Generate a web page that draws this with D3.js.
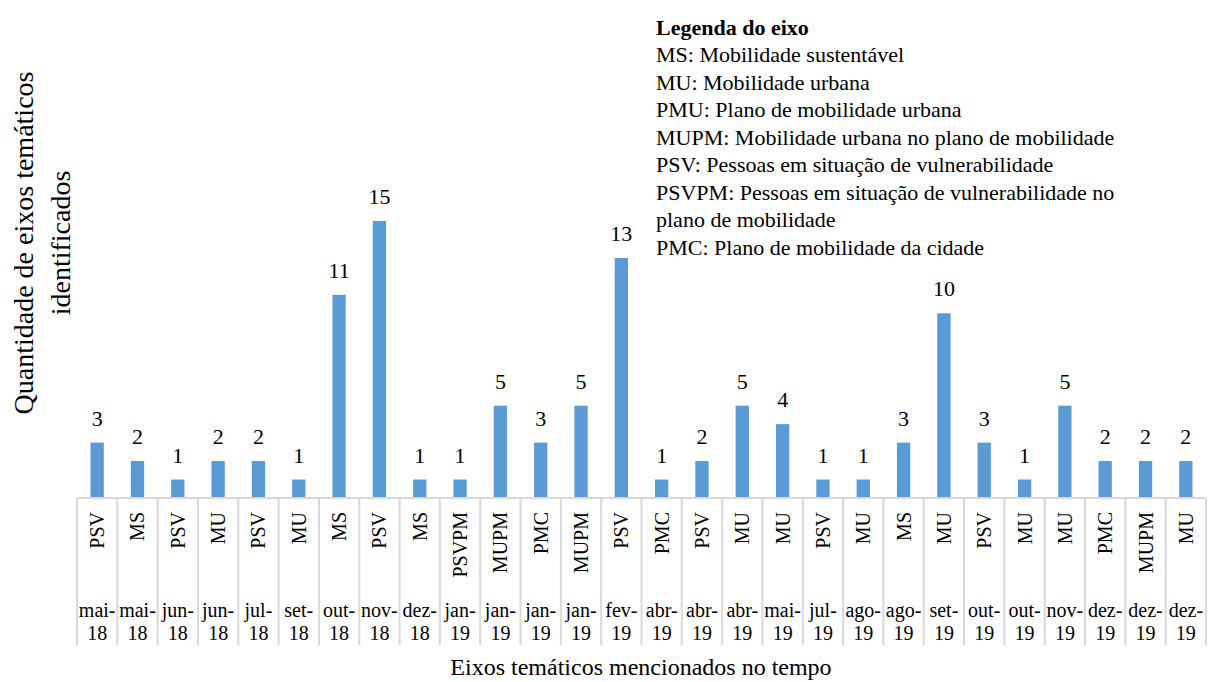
<!DOCTYPE html>
<html>
<head>
<meta charset="utf-8">
<script src="https://cdn.jsdelivr.net/npm/d3@7"></script>
<style>
  html, body { margin: 0; padding: 0; background: #fff; }
  svg { display: block; }
  svg text, svg tspan { font-family: "Liberation Serif", "Times New Roman", "DejaVu Serif", serif !important; fill: #000; }
</style>
</head>
<body>
<svg id="chart" width="1208" height="682" font-family="Liberation Serif, serif"></svg>
<script>
const themes = ["PSV","MS","PSV","MU","PSV","MU","MS","PSV","MS","PSVPM","MUPM","PMC","MUPM","PSV",
                "PMC","PSV","MU","MU","PSV","MU","MS","MU","PSV","MU","MU","PMC","MUPM","MU"];
const dates = ["mai-18","mai-18","jun-18","jun-18","jul-18","set-18","out-18","nov-18","dez-18","jan-19",
               "jan-19","jan-19","jan-19","fev-19","abr-19","abr-19","abr-19","mai-19","jul-19","ago-19",
               "ago-19","set-19","out-19","out-19","nov-19","dez-19","dez-19","dez-19"];
const values = [3,2,1,2,2,1,11,15,1,1,5,3,5,13,1,2,5,4,1,1,3,10,3,1,5,2,2,2];
const legendTitle = "Legenda do eixo";
const legendLines = [
  "MS: Mobilidade sustentável",
  "MU: Mobilidade urbana",
  "PMU: Plano de mobilidade urbana",
  "MUPM: Mobilidade urbana no plano de mobilidade",
  "PSV: Pessoas em situação de vulnerabilidade",
  "PSVPM: Pessoas em situação de vulnerabilidade no",
  "plano de mobilidade",
  "PMC: Plano de mobilidade da cidade"
];
const yTitleLines = ["Quantidade de eixos temáticos", "identificados"];
const xTitle = "Eixos temáticos mencionados no tempo";

const FONT = "'Liberation Serif', 'Times New Roman', serif";
const svg = d3.select("#chart");
const idx = d3.range(values.length);
const left = 77, right = 1206, baseY = 498, topY = 221;

const x = d3.scaleBand().domain(idx).range([left, right]).padding(0);
const y = d3.scaleLinear().domain([0, 15]).range([baseY, topY]);
const barW = x.bandwidth() * 0.33;

// bars
svg.append("g").selectAll("rect").data(idx).join("rect")
  .attr("x", i => x(i) + x.bandwidth()/2 - barW/2)
  .attr("y", i => y(values[i]))
  .attr("width", barW)
  .attr("height", i => y(0) - y(values[i]))
  .attr("fill", "#5b9bd5");

// value labels
svg.append("g").selectAll("text").data(idx).join("text")
  .attr("x", i => x(i) + x.bandwidth()/2)
  .attr("y", i => y(values[i]) - 17)
  .attr("text-anchor", "middle")
  .attr("font-family", FONT)
  .attr("font-size", 22)
  .text(i => values[i]);

// category axis frame
const grid = svg.append("g").attr("stroke", "#d9d9d9").attr("stroke-width", 2);
grid.append("line").attr("x1", left).attr("x2", right).attr("y1", baseY).attr("y2", baseY);
grid.selectAll("line.sep").data(d3.range(values.length + 1)).join("line")
  .attr("class", "sep")
  .attr("x1", i => i < values.length ? x(i) : right)
  .attr("x2", i => i < values.length ? x(i) : right)
  .attr("y1", baseY).attr("y2", 645);

// theme labels (rotated)
svg.append("g").selectAll("text").data(idx).join("text")
  .attr("transform", i => `translate(${x(i) + x.bandwidth()/2},512) rotate(-90)`)
  .attr("text-anchor", "end")
  .attr("dy", "0.35em")
  .attr("font-family", FONT)
  .attr("font-size", 20)
  .text(i => themes[i]);

// date labels
const dg = svg.append("g").selectAll("text").data(idx).join("text")
  .attr("text-anchor", "middle")
  .attr("font-family", FONT)
  .attr("font-size", 20);
dg.append("tspan").attr("x", i => x(i) + x.bandwidth()/2).attr("y", 617)
  .text(i => dates[i].split("-")[0] + "-");
dg.append("tspan").attr("x", i => x(i) + x.bandwidth()/2).attr("y", 640)
  .text(i => dates[i].split("-")[1]);

// y title
svg.append("g").selectAll("text").data(yTitleLines).join("text")
  .attr("transform", (d, i) => `translate(${33 + i*37},243) rotate(-90)`)
  .attr("text-anchor", "middle")
  .attr("font-family", FONT)
  .attr("font-size", 28)
  .text(d => d);

// x title
svg.append("text")
  .attr("x", 641).attr("y", 675)
  .attr("text-anchor", "middle")
  .attr("font-family", FONT)
  .attr("font-size", 24)
  .text(xTitle);

// legend
const lg = svg.append("g").attr("transform", "translate(656,0)");
lg.append("text").attr("x", 0).attr("y", 35).attr("font-family", FONT).attr("font-size", 22).attr("font-weight", "bold").text(legendTitle);
lg.selectAll("text.item").data(legendLines).join("text")
  .attr("class", "item")
  .attr("x", 0)
  .attr("y", (d, i) => 62 + i * 27.5)
  .attr("font-family", FONT)
  .attr("font-size", 22)
  .text(d => d);
</script>
</body>
</html>
